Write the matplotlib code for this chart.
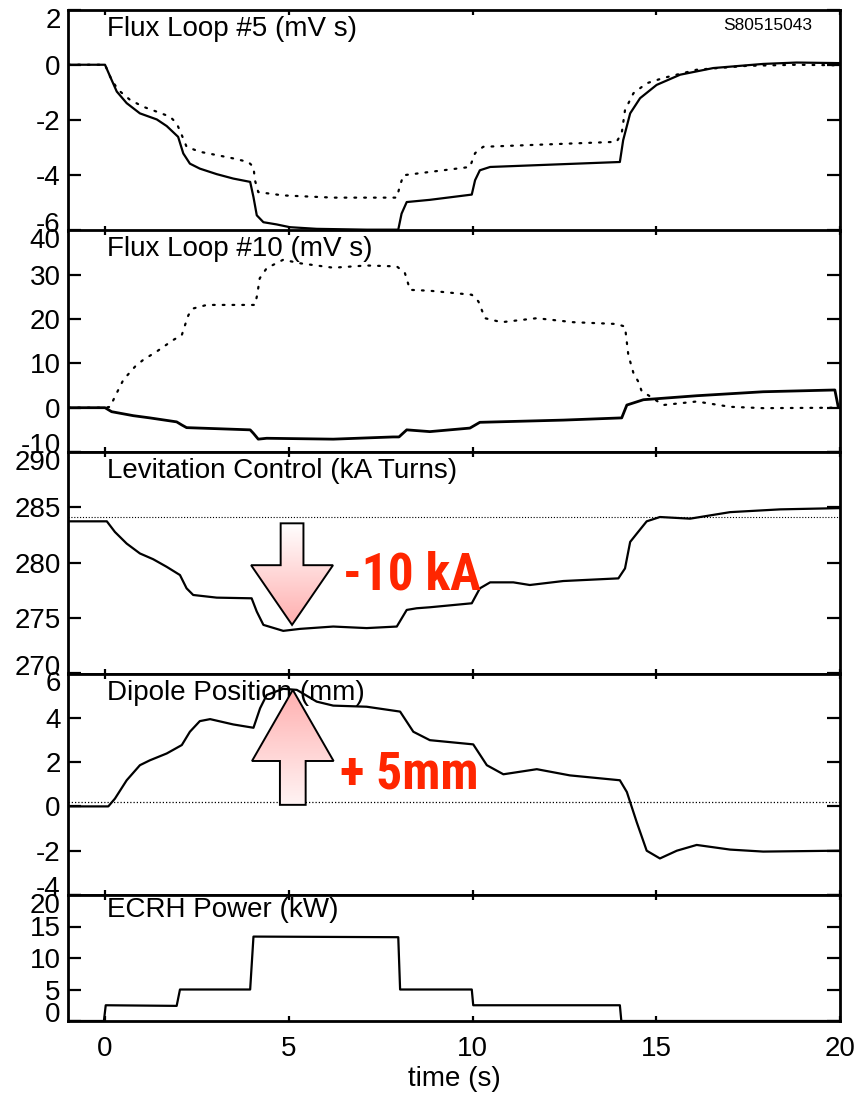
import numpy as np
import matplotlib.pyplot as plt
from matplotlib.patches import Polygon
from matplotlib.colors import LinearSegmentedColormap
from matplotlib.transforms import ScaledTranslation

plt.rcParams['font.family'] = ['Liberation Sans', 'DejaVu Sans']
plt.rcParams['axes.unicode_minus'] = False

# Flux Loop #5 (mV s): measured (solid) and reference (dotted)
fl5_t = [-1, 0.0, 0.18, 0.32, 0.59, 0.95, 1.41, 1.68, 1.99, 2.13, 2.31, 2.58, 3.04, 3.49,
         3.95, 4.04, 4.13, 4.31, 4.67, 5.03, 5.76, 7.12, 7.98, 8.07, 8.21, 8.84, 9.98,
         10.07, 10.20, 10.48, 14.01, 14.10, 14.29, 14.56, 15.01, 15.65, 16.55, 17.91,
         18.82, 19.95, 20]
fl5_v = [0, 0, -0.55, -0.97, -1.39, -1.76, -1.98, -2.22, -2.61, -3.21, -3.58, -3.76, -3.96,
         -4.12, -4.24, -4.79, -5.45, -5.70, -5.78, -5.88, -5.94, -5.97, -5.97, -5.39, -4.97,
         -4.89, -4.70, -4.18, -3.82, -3.70, -3.52, -2.73, -1.76, -1.21, -0.73, -0.36, -0.12,
         0.03, 0.08, 0.06, 0.06]
fl5_dot_t = [-1, 0.0, 0.18, 0.36, 0.68, 1.04, 1.41, 1.77, 1.95, 2.09, 2.22, 2.58, 3.04, 3.49,
             3.90, 4.04, 4.08, 4.17, 4.85, 6.21, 7.94, 8.03, 8.12, 8.84, 9.93, 10.07, 10.29,
             13.92, 14.06, 14.15, 14.38, 14.74, 15.19, 16.10, 17.46, 18.82, 19.95]
fl5_dot_v = [0, 0, -0.55, -0.91, -1.27, -1.52, -1.70, -1.88, -2.12, -2.55, -2.97, -3.15,
             -3.27, -3.39, -3.52, -3.70, -4.18, -4.61, -4.73, -4.81, -4.81, -4.36, -4.00,
             -3.88, -3.70, -3.20, -2.97, -2.79, -2.48, -1.64, -1.03, -0.67, -0.48, -0.18,
             -0.04, 0.0, -0.02]

# Flux Loop #10 (mV s)
fl10_t = [-1, 0.0, 0.18, 0.77, 1.22, 1.95, 2.09, 2.22, 3.95, 4.04, 4.17, 4.40, 6.21, 7.84,
          8.0, 8.21, 8.84, 9.93, 10.20, 12.47, 14.06, 14.20, 14.65, 16.10, 17.91, 19.86, 19.95]
fl10_v = [0, 0, -0.9, -1.8, -2.3, -3.2, -3.9, -4.5, -5.0, -5.8, -7.1, -6.9, -7.1, -6.6,
          -6.6, -5.0, -5.4, -4.6, -3.3, -2.8, -2.3, 0.6, 1.8, 2.7, 3.6, 4.0, 0.25]
fl10_dot_t = [-1, 0.0, 0.14, 0.27, 0.50, 0.82, 1.04, 1.41, 1.86, 2.09, 2.18, 2.27, 2.40,
              2.77, 3.49, 4.08, 4.14, 4.21, 4.40, 4.85, 5.31, 6.21, 7.12, 7.94, 8.16, 8.30,
              8.84, 9.98, 10.16, 10.34, 10.79, 11.75, 12.74, 13.92, 14.15, 14.24, 14.38,
              14.51, 14.60, 15.19, 16.10, 17.01, 17.91, 19.95]
fl10_dot_v = [0, 0, 0.2, 2.5, 6.3, 9.3, 10.8, 12.7, 15.3, 16.4, 18.7, 20.9, 22.4, 23.2,
              23.2, 23.2, 25.4, 29.2, 31.5, 33.4, 32.6, 31.6, 32.1, 31.9, 30.4, 26.6, 26.4,
              25.5, 24.0, 20.2, 19.3, 20.2, 19.3, 18.9, 18.3, 11.9, 7.8, 5.9, 3.8, 0.6, 1.4,
              0.2, -0.1, 0.0]

# Levitation control current (kA turns)
lev_t = [-1, 0.05, 0.27, 0.59, 0.95, 1.31, 1.68, 2.04, 2.22, 2.40, 3.04, 3.99, 4.13, 4.31,
         4.85, 5.31, 6.21, 7.12, 7.94, 8.21, 8.48, 8.84, 9.98, 10.20, 10.48, 11.11, 11.56,
         12.47, 13.97, 14.15, 14.29, 14.47, 14.74, 15.10, 15.92, 17.01, 18.37, 19.95, 20]
lev_v = [283.74, 283.74, 282.78, 281.73, 280.84, 280.32, 279.63, 278.89, 277.69, 277.09,
         276.85, 276.79, 275.59, 274.39, 273.85, 274.03, 274.24, 274.10, 274.24, 275.74,
         275.89, 275.98, 276.34, 277.69, 278.23, 278.23, 277.99, 278.35, 278.59, 279.49,
         281.88, 282.63, 283.74, 284.13, 283.98, 284.57, 284.82, 284.93, 284.93]
lev_ref = 284.13

# Dipole position (mm)
dip_t = [-1, 0.09, 0.27, 0.59, 0.95, 1.22, 1.68, 2.09, 2.31, 2.58, 2.86, 3.49, 4.04, 4.22,
         4.40, 4.85, 5.22, 5.76, 6.21, 7.12, 8.03, 8.39, 8.84, 10.02, 10.39, 10.84, 11.75,
         12.65, 14.01, 14.20, 14.47, 14.74, 15.10, 15.56, 16.10, 17.01, 17.91, 19.95, 20]
dip_v = [0, 0, 0.35, 1.18, 1.86, 2.08, 2.39, 2.77, 3.37, 3.85, 3.94, 3.70, 3.55, 4.43, 5.03,
         5.31, 5.26, 4.73, 4.55, 4.50, 4.28, 3.37, 2.99, 2.80, 1.86, 1.45, 1.68, 1.40, 1.18,
         0.65, -0.72, -2.00, -2.35, -2.00, -1.74, -1.95, -2.04, -2.00, -2.00]
dip_ref = 0.19

# ECRH power (kW)
ecrh_t = [-1, -0.03, 0.02, 1.95, 2.04, 3.95, 4.04, 7.98, 8.03, 9.98, 10.02, 14.01, 14.05, 20]
ecrh_v = [0, 0, 2.5, 2.4, 5.0, 5.0, 13.4, 13.3, 5.0, 5.0, 2.5, 2.5, 0, 0]

titles = ["Flux Loop #5 (mV s)", "Flux Loop #10 (mV s)", "Levitation Control (kA Turns)",
          "Dipole Position (mm)", "ECRH Power (kW)"]
ylims = [(-6, 2), (-10, 40), (270, 290), (-4, 6), (0, 20)]
yticks = [[-6, -4, -2, 0, 2], [-10, 0, 10, 20, 30, 40], [270, 275, 280, 285, 290],
          [-4, -2, 0, 2, 4, 6], [0, 5, 10, 15, 20]]
xticks = [0, 5, 10, 15, 20]

W, H = 858, 1094
fig = plt.figure(figsize=(W / 100, H / 100), dpi=100)

# panel boundaries in pixels from the top
edges = [9.5, 230.5, 452, 673.5, 895, 1021]
left, right = 68.25, 840
axes = []
for i in range(5):
    ax = fig.add_axes([left / W, 1 - edges[i + 1] / H, (right - left) / W,
                       (edges[i + 1] - edges[i]) / H])
    axes.append(ax)

dotted = (0, (0.8, 3.6))
fine_dot = (0, (1, 1.6))

axes[0].plot(fl5_dot_t, fl5_dot_v, color='black', lw=1.6, linestyle=dotted,
             dash_capstyle='round', zorder=2)
axes[0].plot(fl5_t, fl5_v, color='black', lw=1.6, zorder=3)

axes[1].plot(fl10_dot_t, fl10_dot_v, color='black', lw=1.6, linestyle=dotted,
             dash_capstyle='round', zorder=2)
axes[1].plot(fl10_t, fl10_v, color='black', lw=2.0, zorder=3)

axes[2].axhline(lev_ref, color='black', lw=0.8, linestyle=fine_dot, zorder=2)
axes[2].plot(lev_t, lev_v, color='black', lw=1.6, zorder=3)

axes[3].axhline(dip_ref, color='black', lw=0.9, linestyle=fine_dot, zorder=2)
axes[3].plot(dip_t, dip_v, color='black', lw=1.6, zorder=3)

axes[4].plot(ecrh_t, ecrh_v, color='black', lw=1.6, zorder=3)

px = 1 / 100
for i, ax in enumerate(axes):
    ax.set_xlim(-1, 20)
    ax.set_ylim(*ylims[i])
    ax.set_xticks(xticks)
    ax.set_yticks(yticks[i])
    for s in ax.spines.values():
        s.set_linewidth(2.0)
    ax.tick_params(axis='y', direction='in', length=9.5, width=1.6, left=True, right=True,
                   labelsize=20, pad=5.5)
    ax.tick_params(axis='x', direction='in', length=3.8, width=1.6, top=True, bottom=True,
                   labelsize=20, pad=11, labelbottom=(i == 4))
    # nudge the end labels inward so neighbouring panels stay readable
    labels = ax.get_yticklabels()
    labels[0].set_transform(labels[0].get_transform() +
                            ScaledTranslation(0, 8.5 * px, fig.dpi_scale_trans))
    labels[-1].set_transform(labels[-1].get_transform() +
                             ScaledTranslation(0, -8 * px, fig.dpi_scale_trans))
    off = -15 if i == 4 else -19
    ax.annotate(titles[i], xy=(0.05, 1), xycoords='axes fraction', xytext=(0, off),
                textcoords='offset pixels', ha='left', va='center', fontsize=20, zorder=1)

axes[0].annotate("S80515043", xy=(0.964, 1), xycoords='axes fraction', xytext=(0, -16),
                 textcoords='offset pixels', ha='right', va='center', fontsize=12.5)
axes[4].set_xlabel("time (s)", fontsize=20, labelpad=3)


def gradient_arrow(ax, x, y_tail, y_tip, y_head, shaft_hw, head_hw, c_tail, c_tip):
    verts = [(x - shaft_hw, y_tail), (x + shaft_hw, y_tail), (x + shaft_hw, y_head),
             (x + head_hw, y_head), (x, y_tip), (x - head_hw, y_head),
             (x - shaft_hw, y_head)]
    poly = Polygon(verts, closed=True, facecolor='none', edgecolor='black', lw=1.4,
                   joinstyle='miter', zorder=6)
    ax.add_patch(poly)
    cmap = LinearSegmentedColormap.from_list('grad', [c_tail, c_tip])
    grad = np.linspace(0, 1, 256).reshape(-1, 1)
    lo, hi = min(y_tail, y_tip), max(y_tail, y_tip)
    if y_tip < y_tail:
        grad = grad[::-1]
    im = ax.imshow(grad, cmap=cmap, extent=[x - head_hw, x + head_hw, lo, hi],
                   origin='lower', aspect='auto', zorder=5, interpolation='bilinear')
    im.set_clip_path(poly)


gradient_arrow(axes[2], 5.09, 283.56, 274.39, 279.78, 0.31, 1.115, '#ffffff', '#ffaeae')
gradient_arrow(axes[3], 5.11, 0.07, 5.26, 2.05, 0.35, 1.11, '#fff4f4', '#ffb0b0')
for i, ax in enumerate(axes):
    ax.set_xlim(-1, 20)
    ax.set_ylim(*ylims[i])

red = '#ff2600'
bold_narrow = ['Liberation Sans Narrow', 'Roboto Condensed', 'Open Sans Condensed',
               'Noto Sans Condensed', 'DejaVu Sans Condensed', 'Liberation Sans']
axes[2].text(6.48, 278.85, "-10 kA", color=red, fontsize=37, fontweight='bold',
             fontstretch='condensed', family=bold_narrow, ha='left', va='center', zorder=7)
axes[3].text(6.39, 1.45, "+ 5mm", color=red, fontsize=37, fontweight='bold',
             fontstretch='condensed', family=bold_narrow, ha='left', va='center', zorder=7)

fig.savefig("out.png", dpi=100)
